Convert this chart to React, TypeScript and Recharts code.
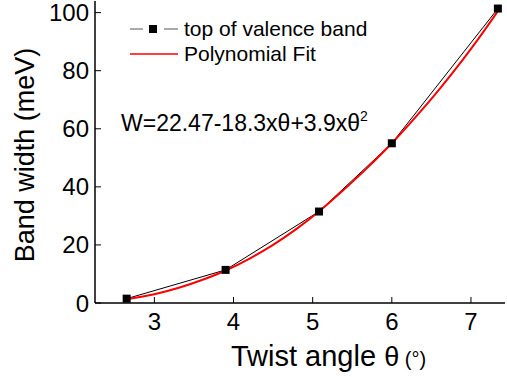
import React from "react";
import { LineChart, Line, XAxis, YAxis } from "recharts";

// measured band width at the top of the valence band
const angles = [2.65, 3.9, 5.08, 6.0, 7.34];
const bandWidth = [1.5, 11.4, 31.5, 55, 101.4];

// polynomial fit curve
const fitAngles = [2.65, 3.0, 3.33, 3.6, 3.9, 4.21, 4.5, 4.8, 5.08, 5.385, 5.7, 6.0, 6.3, 6.6, 6.9, 7.1, 7.34];
const fitWidth = [1.3, 3.0, 5.4, 7.9, 11.2, 15.4, 20.0, 25.6, 31.5, 38.8, 46.8, 55.0, 64.0, 73.6, 83.9, 91.2, 100.5];

const xMajorTicks = [3, 4, 5, 6, 7];
const xMinorTicks = [2.5, 3.5, 4.5, 5.5, 6.5, 7.0];
const yMajorTicks = [0, 20, 40, 60, 80, 100];
const yMinorTicks = [10, 30, 50, 70, 90];

const seriesNames = ["top of valence band", "Polynomial Fit"];

const measured = angles.map((a, i) => ({ x: a, y: bandWidth[i] }));
const fit = fitAngles.map((a, i) => ({ x: a, y: fitWidth[i] }));

const FONT = "'Liberation Sans', Arial, sans-serif";
const X_DOMAIN: [number, number] = [2.25, 7.43];
const Y_DOMAIN: [number, number] = [0, 104];
const tickFont = { fontSize: 24, fill: "#000", fontFamily: FONT };

const SquareDot = (p: any) => (
  <rect key={`sq-${p.index}`} x={p.cx - 4} y={p.cy - 4} width={8} height={8} fill="#000" />
);

export default function App() {
  return (
    <div style={{ position: "absolute", left: 0, top: 0, width: 507, height: 377, background: "#fff" }}>
      <LineChart width={507} height={377} margin={{ top: 1, right: 2, bottom: 0, left: 0 }}>
        {/* minor ticks first so they sit on the plot edge */}
        <XAxis xAxisId="bm" type="number" dataKey="x" domain={X_DOMAIN} allowDataOverflow ticks={xMinorTicks}
          interval={0} height={0} tick={false} tickSize={-4} axisLine={false} tickLine={{ stroke: "#000" }} />
        <XAxis xAxisId="main" type="number" dataKey="x" domain={X_DOMAIN} allowDataOverflow ticks={xMajorTicks}
          interval={0} height={74} tick={tickFont} tickSize={-6} tickMargin={16}
          axisLine={{ stroke: "#000", strokeWidth: 1.5 }} tickLine={{ stroke: "#000" }} />
        <XAxis xAxisId="tm" orientation="top" type="number" dataKey="x" domain={X_DOMAIN} allowDataOverflow ticks={xMinorTicks}
          interval={0} height={0} tick={false} tickSize={-4} axisLine={false} tickLine={{ stroke: "#000" }} />
        <XAxis xAxisId="top" orientation="top" type="number" dataKey="x" domain={X_DOMAIN} allowDataOverflow ticks={xMajorTicks}
          interval={0} height={0} tick={false} tickSize={-6} axisLine={{ stroke: "#000", strokeWidth: 1.5 }} tickLine={{ stroke: "#000" }} />

        <YAxis yAxisId="lm" type="number" domain={Y_DOMAIN} allowDataOverflow ticks={yMinorTicks}
          interval={0} width={0} tick={false} tickSize={-4} axisLine={false} tickLine={{ stroke: "#000" }} />
        <YAxis yAxisId="main" type="number" domain={Y_DOMAIN} allowDataOverflow ticks={yMajorTicks}
          interval={0} width={95} tick={tickFont} tickSize={-6} tickMargin={12}
          axisLine={{ stroke: "#000", strokeWidth: 1.5 }} tickLine={{ stroke: "#000" }} />
        <YAxis yAxisId="rm" orientation="right" type="number" domain={Y_DOMAIN} allowDataOverflow ticks={yMinorTicks}
          interval={0} width={0} tick={false} tickSize={-4} axisLine={false} tickLine={{ stroke: "#000" }} />
        <YAxis yAxisId="right" orientation="right" type="number" domain={Y_DOMAIN} allowDataOverflow ticks={yMajorTicks}
          interval={0} width={0} tick={false} tickSize={-6} axisLine={{ stroke: "#000", strokeWidth: 1.5 }} tickLine={{ stroke: "#000" }} />

        <Line xAxisId="main" yAxisId="main" data={measured} dataKey="y" name={seriesNames[0]} type="linear"
          stroke="#000" strokeWidth={1} dot={false} isAnimationActive={false} />
        <Line xAxisId="main" yAxisId="main" data={fit} dataKey="y" name={seriesNames[1]} type="monotone"
          stroke="#ff0000" strokeWidth={2} dot={false} isAnimationActive={false} />
        <Line xAxisId="main" yAxisId="main" data={measured} dataKey="y" legendType="none" type="linear"
          stroke="none" dot={SquareDot} activeDot={false} isAnimationActive={false} />
      </LineChart>

      <svg width={507} height={377} style={{ position: "absolute", left: 0, top: 0, pointerEvents: "none" }}
        fontFamily={FONT}>
        {/* legend */}
        <line x1={130} x2={143} y1={29} y2={29} stroke="#555" strokeWidth={1} />
        <line x1={164} x2={178} y1={29} y2={29} stroke="#555" strokeWidth={1} />
        <rect x={149} y={25} width={8} height={8} fill="#000" />
        <text x={184} y={36} fontSize={21} fill="#000">{seriesNames[0]}</text>
        <line x1={130} x2={178} y1={54} y2={54} stroke="#ff0000" strokeWidth={1.5} />
        <text x={184} y={61} fontSize={21} fill="#000">{seriesNames[1]}</text>

        {/* fit equation */}
        <text x={121} y={131} fontSize={23} fill="#000">
          W=22.47-18.3xθ+3.9xθ<tspan fontSize={14} dy={-10}>2</tspan>
        </text>

        {/* axis titles */}
        <text x={231} y={366} fontSize={29} fill="#000">
          Twist angle <tspan fontSize={27}>θ</tspan><tspan fontSize={20}> (°)</tspan>
        </text>
        <text x={25} y={155} fontSize={27} fill="#000" textAnchor="middle" dominantBaseline="central"
          transform="rotate(-90 25 155)">Band width (meV)</text>
      </svg>
    </div>
  );
}
